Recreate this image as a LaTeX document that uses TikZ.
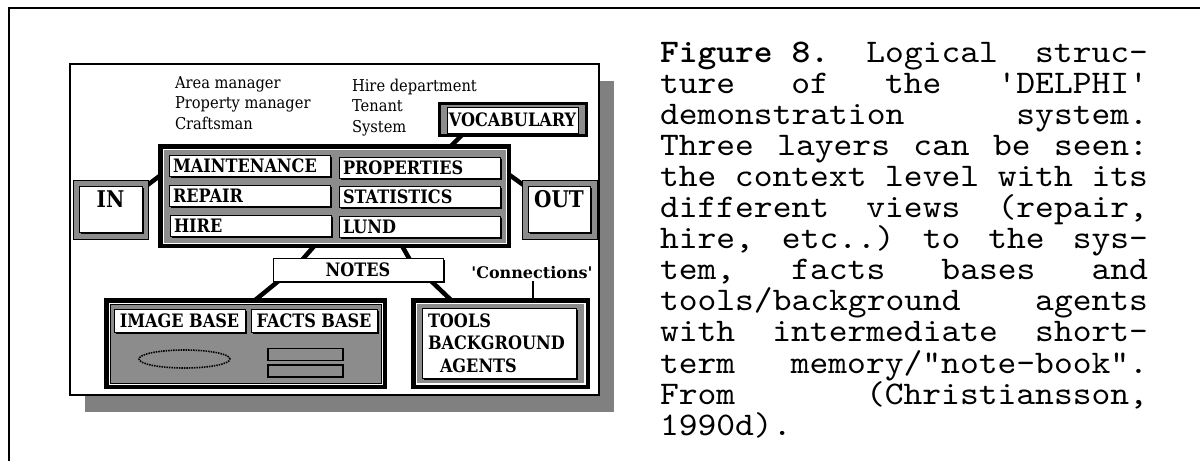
\documentclass[tikz,border=0pt]{standalone}
\usepackage{fontspec}
\newfontfamily\capfont[BoldFont=lmmonolt10-bold.otf,FakeStretch=1.085,Ligatures=TeXOff]{lmmono10-regular.otf}
\newfontfamily\rolefont[FakeStretch=0.9,Ligatures=TeXOff]{DejaVu Serif}
\newfontfamily\labfont[FakeStretch=0.87,Ligatures=TeXOff]{DejaVu Serif}
\newfontfamily\connfont[Ligatures=TeXOff]{DejaVu Serif}
\usetikzlibrary{calc,shadows,shapes.geometric}
\definecolor{halftone}{gray}{0.55}
\definecolor{shadowgray}{gray}{0.5}
\pgfdeclarelayer{bg}
\pgfdeclarelayer{links}
\pgfsetlayers{bg,links,main}
\begin{document}
\begin{tikzpicture}[x=1pt,y=-1pt,
  every node/.style={inner sep=0pt,outer sep=0pt},
  box/.style={anchor=north west,draw=black},
  lab/.style={font=\labfont\bfseries\fontsize{18.5}{22.5}\selectfont},
  big/.style={font=\labfont\bfseries\fontsize{23}{23}\selectfont},
  role/.style={anchor=base west,font=\rolefont\fontsize{16.3}{20}\selectfont},
  blackshadow/.style={drop shadow={shadow xshift=2pt,shadow yshift=-2pt,fill=black,opacity=1}},
  cell/.style={box,lab,fill=white,line width=1pt,minimum height=21pt,
    inner xsep=4pt,align=left,blackshadow},
  tray/.style={box,line width=4.5pt,fill=white},
  link/.style={line width=4.5pt},
  capline/.style={anchor=base west,text height=22pt,text depth=7pt,
    font=\capfont\fontsize{33}{31.1}\selectfont},
]
\useasboundingbox (0,0) rectangle (1200,461);

% page rule
\draw[line width=2pt] (9,461) -- (9,7.5) -- (1200,7.5);

% figure panel with its grey shadow
\begin{pgfonlayer}{bg}
\node[box,line width=2pt,fill=white,minimum width=529pt,minimum height=331pt,
  drop shadow={shadow xshift=15pt,shadow yshift=-17pt,fill=shadowgray,opacity=1}]
  (frame) at (70,64) {};
\end{pgfonlayer}

% user roles
\node[role] (r1) at (175,88) {Area manager};
\node[role] (r2) at (175,108.5) {Property manager};
\node[role] (r3) at (175,129) {Craftsman};
\node[role] (r4) at (352,91) {Hire department};
\node[role] (r5) at (352,111.5) {Tenant};
\node[role] (r6) at (352,132) {System};

% vocabulary
\node[box,line width=3pt,fill=halftone,minimum width=147pt,minimum height=32pt]
  (vocab) at (439.5,103.5) {};
\node[box,lab,fill=white,line width=1pt,minimum width=131pt,minimum height=26pt]
  (vocabin) at (447,107) {VOCABULARY};

% context level
\node[tray,minimum width=348.5pt,minimum height=99.5pt] (context) at (160.25,146.25) {};
\node[anchor=north west,fill=halftone,minimum width=342pt,minimum height=93pt]
  (contextbg) at (163.5,149.5) {};
\node[cell,text width=153pt] (maint) at (169,155) {MAINTENANCE};
\node[cell,text width=153pt] (repair) at (169,185) {REPAIR};
\node[cell,text width=153pt] (hire) at (170,215) {HIRE};
\node[cell,text width=153pt] (props) at (339,157) {PROPERTIES};
\node[cell,text width=153pt] (stats) at (339,186) {STATISTICS};
\node[cell,text width=153pt] (lund) at (339,216) {LUND};

% input and output
\node[box,line width=0.8pt,fill=halftone,minimum width=75pt,minimum height=59pt]
  (inbox) at (73.5,180.5) {};
\node[box,big,fill=white,line width=1pt,minimum width=63pt,text height=21pt,text depth=25pt,
  blackshadow] (inlabel) at (79,186) {IN};
\node[box,line width=0.8pt,fill=halftone,minimum width=75pt,minimum height=59pt]
  (outbox) at (522.5,180.5) {};
\node[box,big,fill=white,line width=1pt,minimum width=62pt,text height=21pt,text depth=25pt,
  blackshadow] (outlabel) at (528,186) {OUT};

% notes
\node[box,lab,fill=white,line width=1pt,minimum width=170pt,minimum height=23pt,blackshadow]
  (notes) at (273,258) {NOTES};
\node[anchor=base,font=\connfont\bfseries\fontsize{16}{16}\selectfont]
  (conn) at (532,278) {'Connections'};

% facts bases
\node[tray,minimum width=278.5pt,minimum height=86.5pt] (facts) at (106.25,300.25) {};
\node[box,line width=0.6pt,fill=halftone,minimum width=271pt,minimum height=79pt]
  (factsbg) at (110,304) {};
\node[box,lab,fill=white,line width=1pt,minimum width=131pt,minimum height=23pt,blackshadow]
  (imagebase) at (114,309) {IMAGE BASE};
\node[box,lab,fill=white,line width=1pt,minimum width=126pt,minimum height=23pt,blackshadow]
  (factsbase) at (251,309) {FACTS BASE};
\node[ellipse,draw=black,line width=1.6pt,dash pattern=on 1.5pt off 1pt,fill=halftone,
  minimum width=91pt,minimum height=18pt] (imgshape) at (184.5,359) {};
\node[box,line width=1.4pt,fill=halftone,minimum width=75pt,minimum height=12pt]
  (rec1) at (268,348.5) {};
\node[box,line width=1.4pt,fill=halftone,minimum width=75pt,minimum height=12pt]
  (rec2) at (268,365) {};

% tools and background agents
\node[tray,minimum width=174.5pt,minimum height=86.5pt] (tools) at (413.25,300.25) {};
\node[anchor=north west,fill=halftone,minimum width=167pt,minimum height=79pt]
  (toolsbg) at (417,304) {};
\node[box,lab,fill=white,line width=1pt,minimum height=70pt,text width=142pt,
  inner xsep=6pt,align=left,blackshadow]
  (toolsin) at (422,308) {TOOLS\\BACKGROUND\\\hspace*{12pt}AGENTS};

% connectors
\begin{pgfonlayer}{links}
\draw[link] ($(inbox.north east)+(-3,6)$) -- ($(context.north west)+(3,27)$);
\draw[link] ($(context.north east)+(-3,26)$) -- ($(outbox.north west)+(3,6)$);
\draw[link] ($(vocab.south west)+(24.5,-2.5)$) -- ($(context.north west)+(288.75,1.75)$);
\draw[link] ($(context.south west)+(155.75,-1.75)$) -- ($(notes.north west)+(29,2)$);
\draw[link] ($(context.south west)+(240.75,-1.75)$) -- ($(notes.north west)+(137,2)$);
\draw[link] ($(notes.south west)+(8,-2)$) -- ($(facts.north west)+(147.75,0.75)$);
\draw[link] ($(notes.south east)+(-14,-2)$) -- ($(tools.north west)+(38.75,0.75)$);
\draw[line width=2.5pt] ($(conn.south)+(1,3)$) -- ($(conn.south |- tools.north)+(1,1)$);
\end{pgfonlayer}

% caption
\node[capline] (c1) at (660,62) {\makebox[488pt][l]{{\bfseries Figure 8.}\hfill Logical\hfill struc-}};
\node[capline] (c2) at (660,93.1) {\makebox[488pt][l]{ture\hfill of\hfill the\hfill 'DELPHI'}};
\node[capline] (c3) at (660,124.2) {\makebox[488pt][l]{demonstration\hfill system.}};
\node[capline] (c4) at (660,155.3) {\makebox[488pt][l]{Three\hfill layers\hfill can\hfill be\hfill seen:}};
\node[capline] (c5) at (660,186.4) {\makebox[488pt][l]{the\hfill context\hfill level\hfill with\hfill its}};
\node[capline] (c6) at (660,217.5) {\makebox[488pt][l]{different\hfill views\hfill (repair,}};
\node[capline] (c7) at (660,248.6) {\makebox[488pt][l]{hire,\hfill etc..)\hfill to\hfill the\hfill sys-}};
\node[capline] (c8) at (660,279.7) {\makebox[488pt][l]{tem,\hfill facts\hfill bases\hfill and}};
\node[capline] (c9) at (660,310.8) {\makebox[488pt][l]{tools/background\hfill agents}};
\node[capline] (c10) at (660,341.9) {\makebox[488pt][l]{with\hfill intermediate\hfill short-}};
\node[capline] (c11) at (660,373) {\makebox[488pt][l]{term\hfill memory/"note-book".}};
\node[capline] (c12) at (660,404.1) {\makebox[488pt][l]{From\hfill (Christiansson,}};
\node[capline] (c13) at (660,435.2) {1990d).};
\end{tikzpicture}
\end{document}
